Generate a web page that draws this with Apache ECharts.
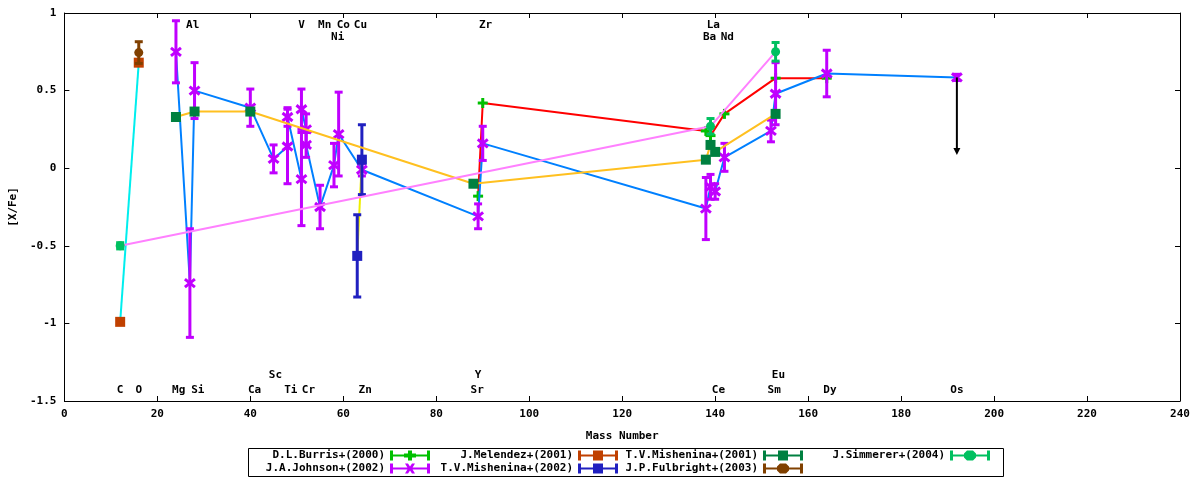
<!DOCTYPE html>
<html>
<head>
<meta charset="utf-8">
<script src="https://cdn.jsdelivr.net/npm/echarts@6/dist/echarts.min.js"></script>
<style>
html, body { margin: 0; background: #fff; }
#abund { width: 1200px; height: 480px; }
</style>
</head>
<body>
<div id="abund"></div>
<script>
// each point: [mass number, [X/Fe], error]
var burris      = [[89, -0.18, 0], [90, 0.42, 0], [138, 0.24, 0], [139, 0.21, 0], [142, 0.35, 0], [153, 0.58, 0], [164, 0.58, 0]];
var johnson     = [[24, 0.75, 0.20], [27, -0.74, 0.35], [28, 0.50, 0.18], [40, 0.39, 0.12], [45, 0.06, 0.09],
                   [48, 0.14, 0.24], [48, 0.33, 0.06], [51, -0.07, 0.30], [51, 0.38, 0.13], [52, 0.25, 0.10],
                   [52, 0.15, 0.08], [55, -0.25, 0.14], [58, 0.02, 0.14], [59, 0.22, 0.27], [64, -0.01, 0.04],
                   [89, -0.31, 0.08], [90, 0.16, 0.11], [138, -0.26, 0.20], [139, -0.12, 0.08], [140, -0.15, 0.05],
                   [142, 0.07, 0.09], [152, 0.24, 0.07], [153, 0.48, 0.20], [164, 0.61, 0.15], [192, 0.585, 0.02]];
var melendez    = [[12, -0.99, 0], [16, 0.68, 0]];
var mishenina02 = [[63, -0.565, 0.265], [64, 0.055, 0.225]];
var mishenina01 = [[24, 0.33, 0], [28, 0.365, 0], [40, 0.365, 0], [88, -0.10, 0], [138, 0.055, 0], [139, 0.15, 0], [140, 0.105, 0], [153, 0.35, 0]];
var fulbright   = [[16, 0.745, 0.07]];
var simmerer    = [[12, -0.50, 0.02], [139, 0.27, 0.05], [153, 0.75, 0.06]];

// Os upper limit: [mass, from, to]
var osLimit = [[192, 0.585, 0.085]];

// element names: [name, mass, y]
var elemTop = [['Al', 27.6, 0.92], ['V', 51, 0.92], ['Mn', 56, 0.92], ['Co', 60, 0.92], ['Cu', 63.7, 0.92],
               ['Zr', 90.6, 0.92], ['La', 139.6, 0.92], ['Ni', 58.8, 0.845], ['Ba', 138.8, 0.845], ['Nd', 142.6, 0.845]];
var elemBottom = [['Sc', 45.4, -1.335], ['Y', 89, -1.335], ['Eu', 153.6, -1.335],
                  ['C', 12, -1.43], ['O', 16, -1.43], ['Mg', 24.6, -1.43], ['Si', 28.7, -1.43], ['Ca', 40.9, -1.43],
                  ['Ti', 48.7, -1.43], ['Cr', 52.5, -1.43], ['Zn', 64.7, -1.43], ['Sr', 88.8, -1.43], ['Ce', 140.7, -1.43],
                  ['Sm', 152.7, -1.43], ['Dy', 164.7, -1.43], ['Os', 192, -1.43]];
var elements = elemTop.concat(elemBottom);

var FONT = 'DejaVu Sans Mono';
var txt = { fontFamily: FONT, fontWeight: 'bold', fontSize: 11, color: '#000' };

// name, points, bar colour, line colour, marker, legend slot
var sets = [
    { name: 'D.L.Burris+(2000)',    data: burris,      color: '#00c000', line: '#ff0000', mark: 'plus',   right: 770, top: 450 },
    { name: 'J.A.Johnson+(2002)',   data: johnson,     color: '#c000ff', line: '#0080ff', mark: 'cross',  right: 770, top: 463 },
    { name: 'J.Melendez+(2001)',    data: melendez,    color: '#c04000', line: '#00eeee', mark: 'square', right: 582, top: 450 },
    { name: 'T.V.Mishenina+(2002)', data: mishenina02, color: '#2020c0', line: '#eeee00', mark: 'square', right: 582, top: 463 },
    { name: 'T.V.Mishenina+(2001)', data: mishenina01, color: '#008040', line: '#ffc020', mark: 'square', right: 397, top: 450 },
    { name: 'J.P.Fulbright+(2003)', data: fulbright,   color: '#804000', line: '#a080ff', mark: 'circle', right: 397, top: 463 },
    { name: 'J.Simmerer+(2004)',    data: simmerer,    color: '#00c060', line: '#ff80ff', mark: 'circle', right: 210, top: 450 }
];

var H = 'M0,1H3V5H37V1H40V11H37V7H3V11H0Z';
var icons = {
    square: 'path://' + H + 'M15,1H25V11H15Z',
    circle: 'path://' + H + 'M17,1H23L26,4V8L23,11H17L14,8V4Z',
    plus:   'path://' + H + 'M18,1H22V4H26V8H22V11H18V8H14V4H18Z',
    cross:  'path://' + H + 'M15,1H18L20,4L22,1H25L22,6L25,11H22L20,8L18,11H15L18,6Z'
};

function marker(kind, c, color) {
    if (kind === 'square') {
        return { type: 'rect', shape: { x: c[0] - 5, y: c[1] - 5, width: 10, height: 10 }, style: { fill: color } };
    }
    if (kind === 'circle') {
        return { type: 'circle', shape: { cx: c[0], cy: c[1], r: 4.5 }, style: { fill: color } };
    }
    if (kind === 'plus') {
        return { type: 'group', children: [
            { type: 'rect', shape: { x: c[0] - 5, y: c[1] - 1.5, width: 10, height: 3 }, style: { fill: color } },
            { type: 'rect', shape: { x: c[0] - 1.5, y: c[1] - 5, width: 3, height: 10 }, style: { fill: color } }
        ] };
    }
    return { type: 'group', children: [
        { type: 'line', shape: { x1: c[0] - 5, y1: c[1] - 4, x2: c[0] + 5, y2: c[1] + 4 }, style: { stroke: color, lineWidth: 3 } },
        { type: 'line', shape: { x1: c[0] - 5, y1: c[1] + 4, x2: c[0] + 5, y2: c[1] - 4 }, style: { stroke: color, lineWidth: 3 } }
    ] };
}

function errorBars(kind) {
    return function (params, api) {
        var x = api.value(0), y = api.value(1), e = api.value(2);
        var c = api.coord([x, y]);
        var color = api.visual('color');
        var kids = [];
        if (e > 0) {
            var t = api.coord([x, y + e])[1], b = api.coord([x, y - e])[1];
            var st = { stroke: color, lineWidth: 3 };
            kids.push({ type: 'line', shape: { x1: c[0], y1: t, x2: c[0], y2: b }, style: st });
            kids.push({ type: 'line', shape: { x1: c[0] - 4, y1: t, x2: c[0] + 4, y2: t }, style: st });
            kids.push({ type: 'line', shape: { x1: c[0] - 4, y1: b, x2: c[0] + 4, y2: b }, style: st });
        }
        kids.push(marker(kind, c, color));
        return { type: 'group', children: kids };
    };
}

var series = [];
var legends = [];
sets.forEach(function (s, i) {
    if (s.data.length > 1) {
        series.push({
            name: s.name + ' line',
            type: 'line',
            data: s.data.map(function (p) { return [p[0], p[1]]; }),
            symbol: 'none',
            lineStyle: { color: s.line, width: 2 },
            z: 2 + i * 2,
            silent: true
        });
    }
    series.push({
        name: s.name,
        type: 'custom',
        data: s.data,
        encode: { x: 0, y: 1 },
        itemStyle: { color: s.color },
        renderItem: errorBars(s.mark),
        clip: false,
        z: 3 + i * 2,
        silent: true
    });
    legends.push({
        data: [{ name: s.name, icon: icons[s.mark] }],
        right: s.right,
        top: s.top,
        align: 'right',
        padding: 0,
        itemWidth: 40,
        itemHeight: 12,
        selectedMode: false,
        textStyle: txt
    });
});

series.push({
    name: 'Os limit',
    type: 'custom',
    data: osLimit,
    encode: { x: 0, y: 1 },
    renderItem: function (params, api) {
        var a = api.coord([api.value(0), api.value(1)]);
        var b = api.coord([api.value(0), api.value(2)]);
        return { type: 'group', children: [
            { type: 'line', shape: { x1: a[0], y1: a[1], x2: b[0], y2: b[1] - 5 }, style: { stroke: '#000', lineWidth: 2 } },
            { type: 'polygon', shape: { points: [[b[0] - 3.5, b[1] - 7], [b[0] + 3.5, b[1] - 7], [b[0], b[1]]] }, style: { fill: '#000' } }
        ] };
    },
    z: 20,
    silent: true
});

series.push({
    name: 'elements',
    type: 'custom',
    data: elements.map(function (e) { return [e[1], e[2]]; }),
    encode: { x: 0, y: 1 },
    renderItem: function (params, api) {
        var c = api.coord([api.value(0), api.value(1)]);
        return { type: 'text', x: c[0], y: c[1], style: {
            text: elements[params.dataIndex][0], fill: '#000',
            font: 'bold 11px "' + FONT + '"', align: 'center', verticalAlign: 'middle'
        } };
    },
    clip: false,
    z: 21,
    silent: true
});

var tick = { show: true, inside: true, length: 5, lineStyle: { color: '#000' } };
var line = { show: true, onZero: false, lineStyle: { color: '#000', width: 1 } };

var chart = echarts.init(document.getElementById('abund'));
chart.setOption({
    animation: false,
    backgroundColor: '#fff',
    grid: { left: 62, right: 20, top: 13, bottom: 79 },
    legend: legends,
    xAxis: [{
        type: 'value', min: 0, max: 240, interval: 20,
        name: 'Mass Number', nameLocation: 'middle', nameGap: 30, nameTextStyle: txt,
        axisLine: line, axisTick: tick, splitLine: { show: false },
        axisLabel: { margin: 8, fontFamily: FONT, fontWeight: 'bold', fontSize: 11, color: '#000' }
    }, {
        type: 'value', min: 0, max: 240, interval: 20, position: 'top',
        axisLine: line, axisTick: tick, axisLabel: { show: false }, splitLine: { show: false }
    }],
    yAxis: [{
        type: 'value', min: -1.5, max: 1, interval: 0.5,
        name: '[X/Fe]', nameLocation: 'middle', nameGap: 44, nameTextStyle: txt,
        axisLine: line, axisTick: tick, splitLine: { show: false },
        axisLabel: { margin: 8, fontFamily: FONT, fontWeight: 'bold', fontSize: 11, color: '#000' }
    }, {
        type: 'value', min: -1.5, max: 1, interval: 0.5, position: 'right',
        axisLine: line, axisTick: tick, axisLabel: { show: false }, splitLine: { show: false }
    }],
    graphic: [{
        type: 'rect', shape: { x: 248.5, y: 448.5, width: 755, height: 28 },
        style: { fill: 'none', stroke: '#000', lineWidth: 1 }, silent: true
    }],
    series: series
});
</script>
</body>
</html>
